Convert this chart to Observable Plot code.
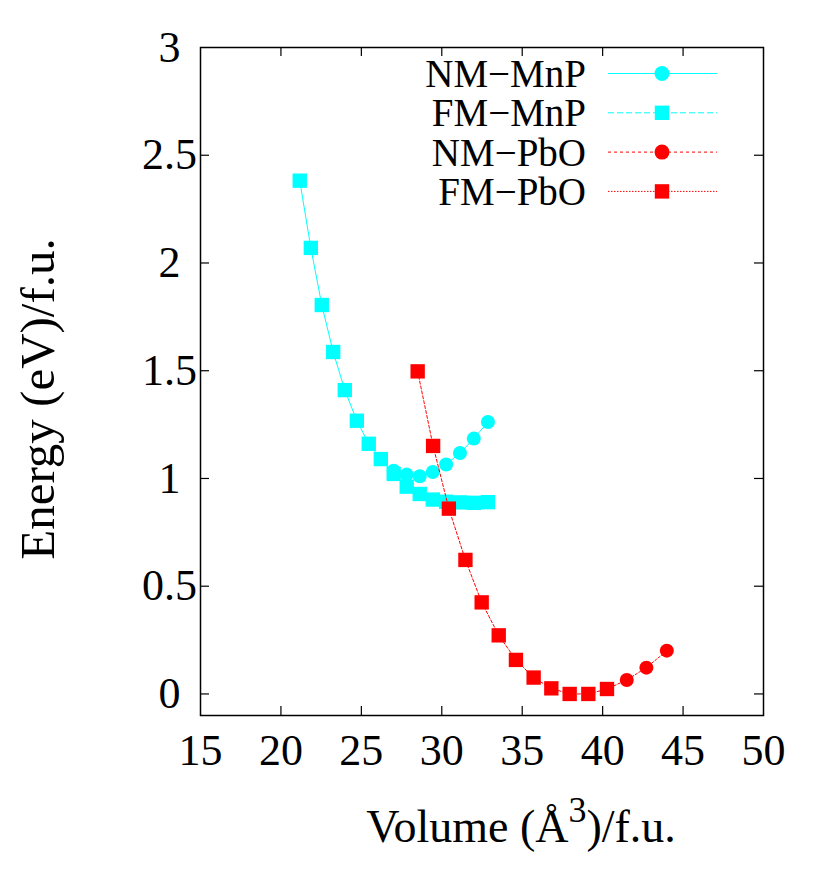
<!DOCTYPE html>
<html>
<head>
<meta charset="utf-8">
<script src="https://cdn.jsdelivr.net/npm/d3@7"></script>
<script src="https://cdn.jsdelivr.net/npm/@observablehq/plot@0.6"></script>
<style>
  html, body { margin: 0; padding: 0; background: #fff; }
  #chart { width: 830px; height: 872px; }
  #chart svg text, #chart svg tspan { font-family: 'Liberation Serif', 'Times New Roman', serif !important; }
</style>
</head>
<body>
<div id="chart"></div>
<script>
// ---- data ----
const nmMnpV = [27.01, 27.82, 28.63, 29.44, 30.27, 31.13, 31.99, 32.87];
const nmMnpE = [1.036, 1.018, 1.010, 1.030, 1.065, 1.118, 1.185, 1.262];

const fmMnpV = [21.17, 21.86, 22.54, 23.25, 23.97, 24.72, 25.46, 26.21, 27.01, 27.82, 28.63, 29.44, 30.27, 31.13, 31.99, 32.87];
const fmMnpE = [2.382, 2.07, 1.805, 1.587, 1.41, 1.268, 1.161, 1.09, 1.021, 0.962, 0.928, 0.902, 0.892, 0.889, 0.887, 0.890];

const nmPboV = [40.27, 41.50, 42.72, 43.99];
const nmPboE = [0.023, 0.065, 0.122, 0.201];

const fmPboV = [28.50, 29.46, 30.44, 31.47, 32.48, 33.54, 34.61, 35.71, 36.81, 37.95, 39.11, 40.27];
const fmPboE = [1.497, 1.151, 0.860, 0.622, 0.425, 0.272, 0.158, 0.076, 0.026, 0.000, 0.000, 0.023];

const xTicks = [15, 20, 25, 30, 35, 40, 45, 50];
const yTicks = [0, 0.5, 1, 1.5, 2, 2.5, 3];
const seriesNames = ["NM\u2212MnP", "FM\u2212MnP", "NM\u2212PbO", "FM\u2212PbO"];

const toRows = (vs, es) => vs.map((v, i) => ({v, e: es[i]}));
const nmMnp = toRows(nmMnpV, nmMnpE);
const fmMnp = toRows(fmMnpV, fmMnpE);
const nmPbo = toRows(nmPboV, nmPboE);
const fmPbo = toRows(fmPboV, fmPboE);

const CYAN = "#00ffff", RED = "#ff0000";
const W = 830, H = 872, mL = 200, mR = 67, mT = 47, mB = 157;
const innerH = H - mT - mB, innerW = W - mL - mR;
const TICK = 9;
const FONT = "'Liberation Serif', 'Times New Roman', serif";

const chart = Plot.plot({
  width: W, height: H,
  marginLeft: mL, marginRight: mR, marginTop: mT, marginBottom: mB,
  style: {fontFamily: FONT, fontSize: "44px", color: "#000", background: "#fff"},
  x: {domain: [15, 50], axis: null},
  y: {domain: [-0.1, 3], axis: null},
  marks: [
    // inward ticks on all four sides
    Plot.ruleX(xTicks.slice(1, -1), {stroke: "#000", strokeWidth: 1.2, insetTop: innerH - TICK}),
    Plot.ruleX(xTicks.slice(1, -1), {stroke: "#000", strokeWidth: 1.2, insetBottom: innerH - TICK}),
    Plot.ruleY(yTicks.slice(0, -1), {stroke: "#000", strokeWidth: 1.2, insetRight: innerW - TICK}),
    Plot.ruleY(yTicks.slice(0, -1), {stroke: "#000", strokeWidth: 1.2, insetLeft: innerW - TICK}),
    // tick labels
    Plot.text(xTicks, {x: d => d, text: d => String(d), frameAnchor: "bottom", dy: 35, lineAnchor: "middle", textAnchor: "middle", fontSize: 44, fill: "#000"}),
    Plot.text(yTicks, {y: d => d, text: d => String(d), frameAnchor: "left", dx: -31, lineAnchor: "middle", textAnchor: "middle", fontSize: 44, fill: "#000"}),
    // series
    Plot.line(nmMnp, {x: "v", y: "e", stroke: CYAN, strokeWidth: 1}),
    Plot.dot(nmMnp, {x: "v", y: "e", r: 7, fill: CYAN, stroke: null, symbol: "circle"}),
    Plot.line(fmMnp, {x: "v", y: "e", stroke: CYAN, strokeWidth: 1}),
    Plot.dot(fmMnp, {x: "v", y: "e", r: 8.1, fill: CYAN, stroke: null, symbol: "square"}),
    Plot.line(nmPbo, {x: "v", y: "e", stroke: RED, strokeWidth: 1, strokeDasharray: "2,2"}),
    Plot.dot(nmPbo, {x: "v", y: "e", r: 7, fill: RED, stroke: null, symbol: "circle"}),
    Plot.line(fmPbo, {x: "v", y: "e", stroke: RED, strokeWidth: 1, strokeDasharray: "3,2"}),
    Plot.dot(fmPbo, {x: "v", y: "e", r: 8.1, fill: RED, stroke: null, symbol: "square"}),
    Plot.frame({stroke: "#000", strokeWidth: 1.5})
  ]
});

document.getElementById("chart").appendChild(chart);

// ---- axis titles and legend drawn as text on the same svg ----
const svg = d3.select(chart);

svg.append("text")
  .attr("transform", "translate(54,399) rotate(-90)")
  .attr("text-anchor", "middle")
  .attr("font-family", FONT).attr("font-size", 49).attr("fill", "#000")
  .text("Energy (eV)/f.u.");

const xl = svg.append("text")
  .attr("x", 521).attr("y", 842)
  .attr("text-anchor", "middle")
  .attr("font-family", FONT).attr("font-size", 46).attr("fill", "#000");
xl.append("tspan").text("Volume (\u00C5");
xl.append("tspan").attr("dy", -20).attr("font-size", 36).text("3");
xl.append("tspan").attr("dy", 20).text(")/f.u.");

const legendStyles = [
  {color: CYAN, dash: null, sym: "circle"},
  {color: CYAN, dash: "6,3", sym: "square"},
  {color: RED, dash: "3,3", sym: "circle"},
  {color: RED, dash: "1.5,1.5", sym: "square"}
];
const lg = svg.append("g");
seriesNames.forEach((name, i) => {
  const y = 73.5 + i * 39.3;
  const st = legendStyles[i];
  lg.append("text").attr("x", 586).attr("y", y).attr("dy", "0.35em")
    .attr("text-anchor", "end").attr("font-family", FONT).attr("font-size", 39).attr("fill", "#000")
    .text(name);
  lg.append("line").attr("x1", 608).attr("x2", 717).attr("y1", y).attr("y2", y)
    .attr("stroke", st.color).attr("stroke-width", 1).attr("stroke-dasharray", st.dash);
  if (st.sym === "circle") {
    lg.append("circle").attr("cx", 662).attr("cy", y).attr("r", 7.5).attr("fill", st.color);
  } else {
    lg.append("rect").attr("x", 662 - 7.2).attr("y", y - 7.2).attr("width", 14.4).attr("height", 14.4).attr("fill", st.color);
  }
});
</script>
</body>
</html>
